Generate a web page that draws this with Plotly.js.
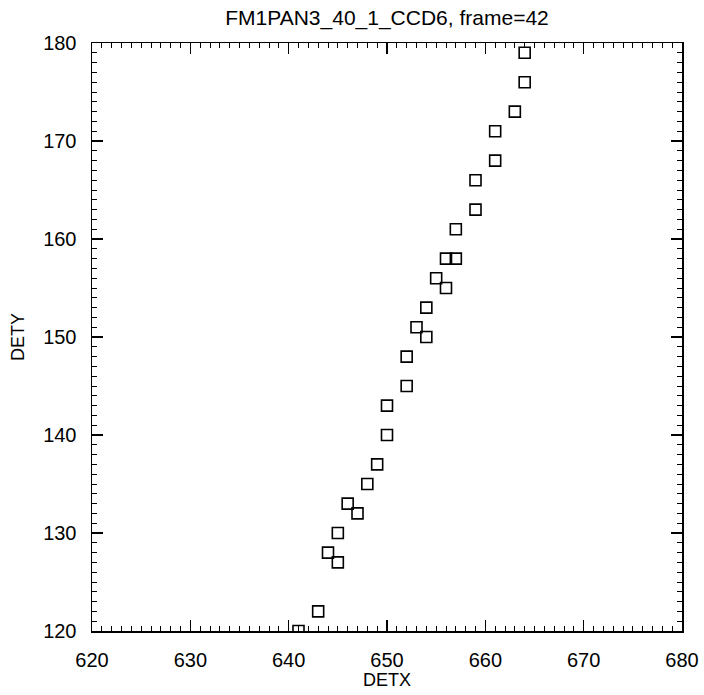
<!DOCTYPE html>
<html>
<head>
<meta charset="utf-8">
<script src="https://cdn.plot.ly/plotly-3.0.1.min.js"></script>
<style>html,body{margin:0;padding:0;background:#fff;}#plot{width:704px;height:695px;}</style>
</head>
<body>
<div id="plot"></div>
<script>
const chartTitle = "FM1PAN3_40_1_CCD6, frame=42";
const xLabel = "DETX";
const yLabel = "DETY";
const detx = [664, 664, 663, 661, 661, 659, 659, 657, 656, 657, 655, 656, 654, 653, 654, 652, 652, 650, 650, 649, 648, 646, 647, 645, 644, 645, 643, 641];
const dety = [179, 176, 173, 171, 168, 166, 163, 161, 158, 158, 156, 155, 153, 151, 150, 148, 145, 143, 140, 137, 135, 133, 132, 130, 128, 127, 122, 120];
const xTickVals = [620, 630, 640, 650, 660, 670, 680];
const yTickVals = [120, 130, 140, 150, 160, 170, 180];

const font = "Liberation Sans, Arial, sans-serif";
const axisCommon = {
  showgrid: false, zeroline: false, showline: true, linecolor: "#000", linewidth: 1.5,
  mirror: "ticks", ticks: "inside", ticklen: 11, tickwidth: 1.5, tickcolor: "#000",
  minor: {ticks: "inside", dtick: 1, ticklen: 5, tickwidth: 1, tickcolor: "#000"},
  tickfont: {family: font, size: 20, color: "#000"},
  tickmode: "array"
};
const trace = {
  x: detx, y: dety, type: "scatter", mode: "markers",
  marker: {symbol: "square-open", size: 11, color: "#000", line: {width: 1.6, color: "#000"}},
  cliponaxis: true, hoverinfo: "x+y"
};
const layout = {
  width: 704, height: 695,
  margin: {l: 92, r: 22, t: 43, b: 64},
  paper_bgcolor: "#fff", plot_bgcolor: "#fff",
  showlegend: false,
  title: {text: chartTitle, font: {family: font, size: 21, color: "#000"}, x: 0.55, xanchor: "center", y: 0.975, yanchor: "middle", xref: "paper"},
  xaxis: Object.assign({}, axisCommon, {range: [620, 680], tickvals: xTickVals, ticktext: xTickVals.map(String), ticklabelstandoff: 10,
    title: {text: xLabel, font: {family: font, size: 18, color: "#000"}, standoff: 4}}),
  yaxis: Object.assign({}, axisCommon, {range: [120, 180], tickvals: yTickVals, ticktext: yTickVals.map(String), ticklabelstandoff: 10,
    title: {text: yLabel, font: {family: font, size: 18, color: "#000"}, standoff: 14}})
};
layout.title.x = 0.5;
Plotly.newPlot("plot", [trace], layout, {displayModeBar: false, staticPlot: true});
</script>
</body>
</html>
